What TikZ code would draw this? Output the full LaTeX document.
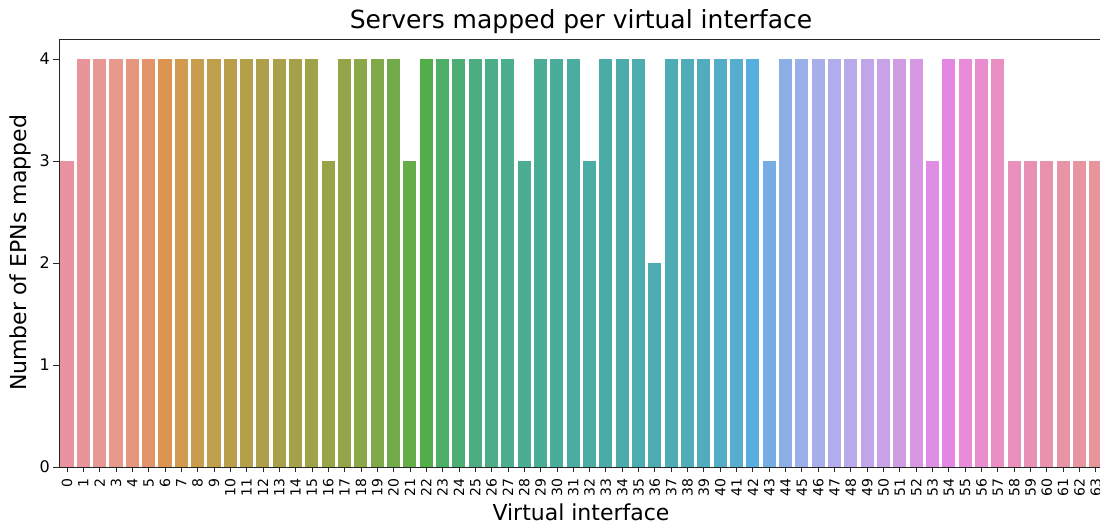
\documentclass[tikz,border=0pt]{standalone}
\usepackage{fontspec}
\setmainfont{DejaVu Sans}
\usepackage{xcolor}
\usepackage{tikz}
\definecolor{spine}{HTML}{262626}

\begin{document}
\begin{tikzpicture}[x=1pt, y=1pt]
\useasboundingbox (0,0) rectangle (1100,525);
% bars
\foreach \v/\c [count=\i from 0] in {3/E8939F,4/E8949A,4/E89894,4/E8988D,4/E5967D,4/E29468,4/DC9450,4/D29A4F,
  4/C89D4E,4/BF9F4C,4/B99F4B,4/B3A04B,4/AEA04A,4/A9A149,4/A4A149,4/9FA248,
  3/99A448,4/93A548,4/8AA749,4/80A949,4/74AB4A,3/64AD48,4/51AE48,4/4DAE68,
  4/4DAE75,4/4CAE80,4/4BAE88,4/4BAE8E,3/4BAE93,4/4AAE97,4/4AAD9B,4/4AAD9F,
  3/4BADA3,4/4BACA7,4/4CACAA,4/4DACAD,2/4EACB1,4/4FACB5,4/50ACB9,4/52ACBE,
  4/54ADC5,4/56ADCE,4/58AEDC,3/76AEE3,4/8BAEE6,4/9BAFE8,4/A7AEEA,4/B1ACEB,
  4/B8A9EA,4/C1A5E9,4/C8A1E8,4/D09DE5,4/D897E3,3/DE8FE3,4/E387E3,4/E88BD9,
  4/E88DCE,4/E98FC4,3/E990BC,3/E991B4,3/E992AD,3/E993A6,3/E994A1,3/E8949B}{
  \definecolor{barfill}{HTML}{\c}
  \fill[barfill] ({67+16.33*\i-6.53},58) rectangle ({67+16.33*\i+6.53},{58+102*\v});
  \draw[thick, spine] ({67+16.33*\i},58) -- ({67+16.33*\i},53);
  \node[rotate=90, anchor=east, inner sep=0pt, font=\fontsize{14}{16}\selectfont] (xl\i) at ({67+16.33*\i},47) {\i};
}
% y ticks
\foreach \v in {0,...,4}{
  \draw[thick, spine] (59,{58+102*\v}) -- (53,{58+102*\v});
  \node[anchor=east, inner sep=0pt, font=\fontsize{16}{18}\selectfont] (yl\v) at (50,{58+102*\v}) {\v};
}
% spines
\draw[thick, spine] (1100,486) -- (59,486) -- (59,58) -- (1100,58);
\node[font=\fontsize{25}{28}\selectfont] (title) at (581,503) {Servers mapped per virtual interface};
\node[font=\fontsize{22}{25}\selectfont] (xlab) at (581,13) {Virtual interface};
\node[rotate=90, font=\fontsize{22}{25}\selectfont] (ylab) at (20,272) {Number of EPNs mapped};
\end{tikzpicture}
\end{document}
